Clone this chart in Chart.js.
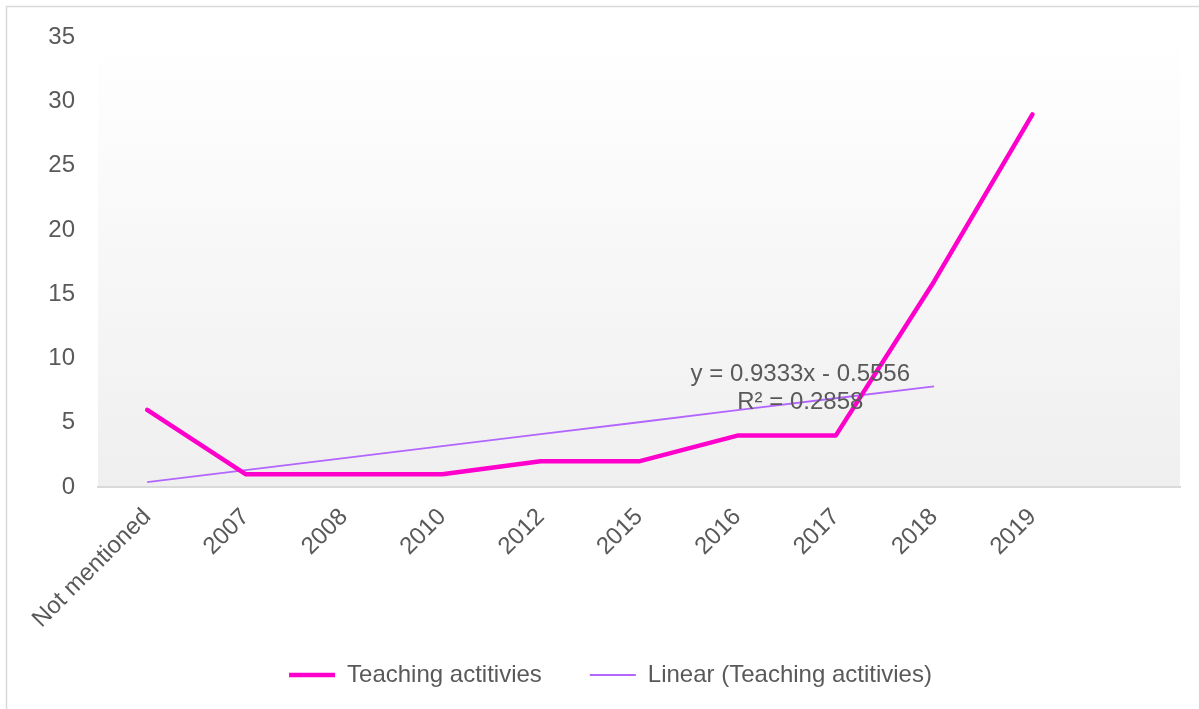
<!DOCTYPE html>
<html>
<head>
<meta charset="utf-8">
<script src="https://cdn.jsdelivr.net/npm/chart.js@4"></script>
<style>
  html, body { margin: 0; padding: 0; background: #fff; }
  #wrap { width: 1199px; height: 709px; position: relative; }
</style>
</head>
<body>
<div id="wrap"><canvas id="teaching"></canvas></div>
<script>
// categories (last slot is empty, like the original sheet)
const categories = ['Not mentioned', '2007', '2008', '2010', '2012', '2015', '2016', '2017', '2018', '2019', ''];
const teachingValues = [6, 1, 1, 1, 2, 2, 4, 4, 16, 29];
// linear trend (ends at 2018)
const trendValues = [0.38, 1.31, 2.24, 3.18, 4.11, 5.04, 5.98, 6.91, 7.84];
const yTicks = [0, 5, 10, 15, 20, 25, 30, 35];
const trendLabel = ['y = 0.9333x - 0.5556', 'R\u00b2 = 0.2858'];

const textColor = '#595959';
const fontFamily = '"Liberation Sans", Arial, sans-serif';

// frame + plot area gradient
const backgroundPlugin = {
  id: 'background',
  afterLayout(chart) {
    // let the long rotated label run past the axis box (it is clipped otherwise)
    chart.scales.x.bottom = chart.height;
  },
  beforeDraw(chart) {
    const ctx = chart.ctx;
    const a = chart.chartArea;
    ctx.save();
    ctx.fillStyle = '#fff';
    ctx.fillRect(0, 0, chart.width, chart.height);
    ctx.strokeStyle = '#d9d9d9';
    ctx.lineWidth = 1.5;
    ctx.strokeRect(6.5, 6.5, chart.width + 20, chart.height + 20);
    const g = ctx.createLinearGradient(0, a.top, 0, a.bottom);
    g.addColorStop(0, '#ffffff');
    g.addColorStop(1, '#efefef');
    ctx.fillStyle = g;
    ctx.fillRect(a.left, a.top, a.right - a.left, a.bottom - a.top);
    ctx.restore();
  }
};

// trendline equation text
const trendTextPlugin = {
  id: 'trendText',
  afterDatasetsDraw(chart) {
    const ctx = chart.ctx;
    const x = chart.scales.x.getPixelForValue(6.64);
    const y = chart.scales.y.getPixelForValue(8.8);
    ctx.save();
    ctx.font = '24px ' + fontFamily;
    ctx.fillStyle = textColor;
    ctx.textAlign = 'center';
    ctx.textBaseline = 'middle';
    ctx.fillText(trendLabel[0], x, y);
    ctx.fillText(trendLabel[1], x, y + 28);
    ctx.restore();
  }
};

const ctx = document.getElementById('teaching').getContext('2d');
const chart = new Chart(ctx, {
  type: 'line',
  data: {
    labels: categories,
    datasets: [{
      label: 'Teaching actitivies',
      data: teachingValues,
      borderColor: '#ff00cc',
      backgroundColor: '#ff00cc',
      borderWidth: 4.5,
      borderCapStyle: 'round',
      borderJoinStyle: 'round',
      pointRadius: 0,
      tension: 0
    }, {
      label: 'Linear (Teaching actitivies)',
      data: trendValues,
      borderColor: '#b266ff',
      backgroundColor: '#b266ff',
      borderWidth: 1.8,
      pointRadius: 0,
      tension: 0
    }]
  },
  options: {
    responsive: true,
    maintainAspectRatio: false,
    animation: false,
    layout: {
      padding: { left: 41, right: 19, top: 35, bottom: 12 }
    },
    scales: {
      x: {
        offset: true,
        grid: { display: false, drawTicks: false, offset: true },
        border: { display: true, color: '#d9d9d9', width: 2 },
        ticks: {
          color: textColor,
          font: { size: 24, family: fontFamily },
          minRotation: 45,
          maxRotation: 45,
          autoSkip: false,
          padding: 16
        },
        afterFit(scale) {
          scale.height = 128;
          scale.paddingLeft = 0;
          scale.paddingRight = 0;
        }
      },
      y: {
        min: 0,
        max: 35,
        grid: { display: false, drawTicks: false },
        border: { display: false },
        afterBuildTicks(scale) { scale.ticks = yTicks.map(v => ({ value: v })); },
        ticks: {
          color: textColor,
          font: { size: 24, family: fontFamily },
          padding: 23
        },
        afterFit(scale) { scale.width = 57; }
      }
    },
    plugins: {
      legend: {
        display: true,
        position: 'bottom',
        labels: {
          color: textColor,
          font: { size: 24, family: fontFamily },
          usePointStyle: true,
          pointStyle: 'line',
          pointStyleWidth: 46,
          padding: 48
        }
      },
      tooltip: { enabled: false }
    }
  },
  plugins: [backgroundPlugin, trendTextPlugin]
});
</script>
</body>
</html>
